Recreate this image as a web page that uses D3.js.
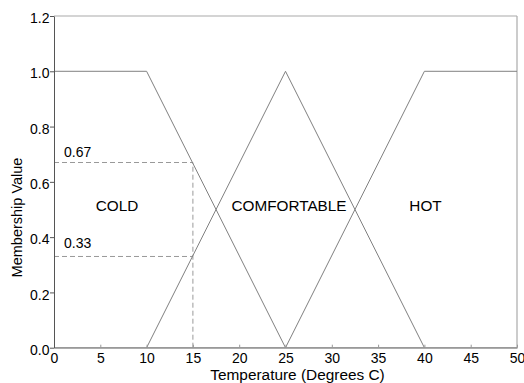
<!DOCTYPE html>
<html><head><meta charset="utf-8">
<script src="https://cdn.jsdelivr.net/npm/d3@7"></script>
<style>body{margin:0;background:#fff}svg{display:block}text{font-family:"Liberation Sans",Arial,sans-serif;fill:#000}</style>
</head><body><svg id="c" width="524" height="383"></svg>
<script>
const xTicks = [0,5,10,15,20,25,30,35,40,45,50];
const yTicks = [0.0,0.2,0.4,0.6,0.8,1.0,1.2];
const coldX = [0,10,25,50], coldY = [1,1,0,0];
const comfX = [10,25,40], comfY = [0,1,0];
const hotX = [0,25,40,50], hotY = [0,0,1,1];
const markerX = 15, markerHi = 0.67, markerLo = 0.33;

const svg = d3.select("#c");
const x = d3.scaleLinear().domain([0,50]).range([54,517]);
const y = d3.scaleLinear().domain([0,1.2]).range([347.7,16]);

// frame
svg.append("line").attr("x1",x(0)).attr("x2",x(50)).attr("y1",y(1.2)).attr("y2",y(1.2)).attr("stroke","#aaa").attr("stroke-width",1.2);
svg.append("line").attr("x1",x(50)).attr("x2",x(50)).attr("y1",y(1.2)).attr("y2",y(0)).attr("stroke","#aaa").attr("stroke-width",1.2);

// dashed markers
const dash = svg.append("g").attr("stroke","#999").attr("stroke-dasharray","5,3").attr("fill","none");
dash.append("line").attr("x1",x(0)).attr("x2",x(markerX)).attr("y1",y(markerHi)).attr("y2",y(markerHi));
dash.append("line").attr("x1",x(0)).attr("x2",x(markerX)).attr("y1",y(markerLo)).attr("y2",y(markerLo));
dash.append("line").attr("x1",x(markerX)).attr("x2",x(markerX)).attr("y1",y(0)).attr("y2",y(markerHi));

// curves
const line = d3.line().x(d=>x(d[0])).y(d=>y(d[1]));
[[coldX,coldY],[comfX,comfY],[hotX,hotY]].forEach(([xs,ys])=>{
  svg.append("path").attr("d",line(xs.map((v,i)=>[v,ys[i]]))).attr("fill","none").attr("stroke","#808080").attr("stroke-width",1);
});

// x axis
const xa = svg.append("g").attr("transform",`translate(0,${y(0)})`)
  .call(d3.axisBottom(x).tickValues(xTicks).tickFormat(d3.format("d")).tickSizeInner(-3).tickSizeOuter(0));
xa.select(".domain").attr("stroke","#999").attr("stroke-width",1.2);
xa.selectAll(".tick line").attr("stroke","#999");
xa.selectAll(".tick text").attr("font-size",14).attr("y",15).attr("dy",0);

// y axis
const ya = svg.append("g").attr("transform",`translate(${x(0)},0)`)
  .call(d3.axisLeft(y).tickValues(yTicks).tickFormat(d3.format(".1f")).tickSizeInner(4).tickSizeOuter(0));
ya.select(".domain").attr("stroke","#555").attr("stroke-width",1);
ya.selectAll(".tick line").attr("stroke","#555");
ya.selectAll(".tick text").attr("font-size",14).attr("x",-4.5).attr("dy",6.6);

// annotations
svg.append("text").attr("x",x(0)+10).attr("y",y(markerHi)-5.5).attr("font-size",14).text(markerHi.toFixed(2));
svg.append("text").attr("x",x(0)+10).attr("y",y(markerLo)-8).attr("font-size",14).text(markerLo.toFixed(2));
svg.append("text").attr("x",117).attr("y",210.7).attr("font-size",15.3).attr("text-anchor","middle").text("COLD");
svg.append("text").attr("x",289).attr("y",210.7).attr("font-size",15.3).attr("text-anchor","middle").text("COMFORTABLE");
svg.append("text").attr("x",425.5).attr("y",210.7).attr("font-size",15.3).attr("text-anchor","middle").text("HOT");

// titles
svg.append("text").attr("x",297.5).attr("y",380).attr("font-size",15.4).attr("text-anchor","middle").text("Temperature (Degrees C)");
svg.append("text").attr("transform","translate(21.5,217.5) rotate(-90)").attr("font-size",14.5).attr("text-anchor","middle").text("Membership Value");
</script></body></html>
